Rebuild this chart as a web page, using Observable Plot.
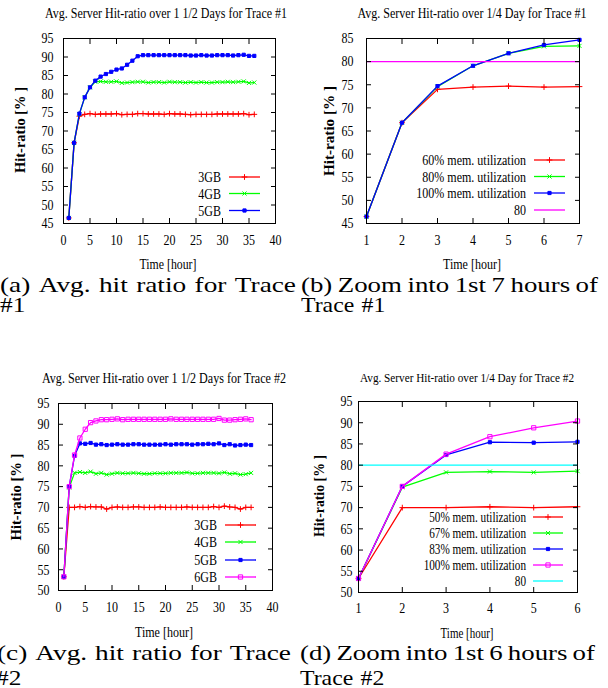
<!DOCTYPE html>
<html><head><meta charset="utf-8">
<script src="https://cdn.jsdelivr.net/npm/d3@7"></script>
<script src="https://cdn.jsdelivr.net/npm/@observablehq/plot@0.6"></script>
<style>
html,body{margin:0;padding:0;background:#fff;}
#root{position:relative;width:608px;height:688px;overflow:hidden;}
#overlay{position:absolute;left:0;top:0;pointer-events:none;}
</style></head><body><div id="root"></div>
<script>
// ---------- data ----------
const hours = [1,2,3,4,5,6,7,8,9,10,11,12,13,14,15,16,17,18,19,20,21,22,23,24,25,26,27,28,29,30,31,32,33,34,35,36];

const trace1_3GB = [46.5,66.8,74.0,74.5,74.7,74.5,74.6,74.6,74.6,74.7,
  74.4,74.5,74.5,74.7,74.7,74.6,74.6,74.6,74.5,74.7,
  74.6,74.6,74.5,74.4,74.5,74.5,74.5,74.5,74.6,74.6,
  74.6,74.6,74.6,74.7,74.4,74.5];
const trace1_4GB = [46.5,66.8,74.6,79.1,81.8,83.3,83.4,83.3,83.3,83.4,
  83.0,83.1,83.2,83.3,83.3,83.1,83.2,83.2,83.1,83.3,
  83.2,83.2,83.1,83.2,83.1,83.2,83.1,83.1,83.2,83.2,
  83.3,83.2,83.3,83.4,83.0,83.1];
const trace1_5GB = [46.5,66.8,74.7,79.1,81.8,83.6,84.7,85.4,86.0,86.6,
  86.9,87.9,89.0,90.2,90.5,90.5,90.5,90.5,90.5,90.5,
  90.5,90.5,90.5,90.4,90.4,90.5,90.4,90.4,90.5,90.5,
  90.5,90.4,90.5,90.6,90.3,90.3];

const trace2_3GB = [53.3,70.0,70.0,70.2,70.0,70.2,70.1,70.1,69.6,70.0,
  70.1,70.0,70.0,70.1,70.1,70.0,70.0,70.0,70.1,70.0,
  70.0,70.0,70.0,70.1,70.0,70.0,70.0,70.0,70.2,70.0,
  70.3,70.1,70.0,69.6,70.0,70.0];
const trace2_4GB = [53.3,74.8,78.3,78.5,78.3,78.6,78.1,78.3,77.9,78.1,
  78.3,78.2,78.2,78.3,78.2,78.1,78.1,78.2,78.2,78.2,
  78.3,78.3,78.3,78.4,78.2,78.2,78.3,78.3,78.3,78.2,
  78.4,78.1,78.2,77.9,78.0,78.3];
const trace2_5GB = [53.3,75.0,82.4,85.4,85.3,85.5,85.1,85.2,85.0,85.1,
  85.2,85.1,85.1,85.2,85.2,85.1,85.1,85.1,85.1,85.2,
  85.1,85.2,85.2,85.2,85.1,85.2,85.2,85.3,85.2,85.4,
  85.0,85.2,84.9,85.0,85.1,85.0];
const trace2_6GB = [53.3,75.0,82.6,86.7,88.8,90.4,90.8,91.1,91.1,91.2,
  91.3,91.1,91.2,91.2,91.2,91.2,91.2,91.2,91.2,91.2,
  91.3,91.2,91.2,91.2,91.2,91.2,91.2,91.2,91.2,91.4,
  91.0,91.0,91.1,91.2,91.3,91.1];

const targetRatio = 80;

const legendA = ["3GB","4GB","5GB"];
const legendB = ["60% mem. utilization","80% mem. utilization","100% mem. utilization","80"];
const legendC = ["3GB","4GB","5GB","6GB"];
const legendD = ["50% mem. utilization","67% mem. utilization","83% mem. utilization","100% mem. utilization","80"];

const xTicksLong = [0,5,10,15,20,25,30,35,40];
const xTicksB = [1,2,3,4,5,6,7];
const xTicksD = [1,2,3,4,5,6];
const yTicksA = [45,50,55,60,65,70,75,80,85,90,95];
const yTicksB = [45,50,55,60,65,70,75,80,85];
const yTicksCD = [50,55,60,65,70,75,80,85,90,95];

const titles = [
  "Avg. Server Hit-ratio over 1 1/2 Days for Trace #1",
  "Avg. Server Hit-ratio over 1/4 Day for Trace #1",
  "Avg. Server Hit-ratio over 1 1/2 Days for Trace #2",
  "Avg. Server Hit-ratio over 1/4 Day for Trace #2"
];
const yLabel = "Hit-ratio [% ]";
const xLabel = "Time [hour]";
const captions = [
  ["(a) Avg. hit ratio for Trace", "#1"],
  ["(b) Zoom into 1st 7 hours of", "Trace #1"],
  ["(c) Avg. hit ratio for Trace", "#2"],
  ["(d) Zoom into 1st 6 hours of", "Trace #2"]
];

// ---------- styles ----------
const RED = "#ff0000", GREEN = "#00ff00", BLUE = "#0000ff", MAGENTA = "#ff00ff", CYAN = "#00ffff";
const sty = {
  s1: {color: RED, symbol: "plus", r: 2.0, fill: "none"},
  s2: {color: GREEN, symbol: "times", r: 2.0, fill: "none"},
  s3: {color: BLUE, symbol: "square", r: 1.8, fill: BLUE},
  s4: {color: MAGENTA, symbol: "square2", r: 2.7, fill: "none"}
};
const FONT = "'Liberation Serif', 'Times New Roman', serif";
const SQUEEZE = 0.8;

const root = document.getElementById("root");

function makePanel(p) {
  const marks = [];
  for (const s of p.series) {
    const rows = hours.map((t, i) => ({t, v: s.values[i]})).filter(d => d.t >= p.xDomain[0] && d.t <= p.xDomain[1]);
    marks.push(Plot.line(rows, {x: "t", y: "v", stroke: s.color, strokeWidth: 1.3}));
    marks.push(Plot.dot(rows, {x: "t", y: "v", symbol: s.symbol, r: s.r, stroke: s.color, fill: s.fill, strokeWidth: 1}));
  }
  if (p.ref) marks.push(Plot.ruleY([p.ref.value], {stroke: p.ref.color, strokeWidth: 1.3}));
  marks.push(Plot.frame({stroke: "black", strokeWidth: 1}));
  marks.push(Plot.axisX({ticks: p.xTicks, anchor: "bottom", tickSize: 5, dy: -5, fill: "none", label: null}));
  marks.push(Plot.axisX({ticks: p.xTicks, anchor: "top", tickSize: 5, dy: 5, fill: "none", label: null}));
  marks.push(Plot.axisY({ticks: p.yTicks, anchor: "left", tickSize: 5, dx: 5, fill: "none", label: null}));
  marks.push(Plot.axisY({ticks: p.yTicks, anchor: "right", tickSize: 5, dx: -5, fill: "none", label: null}));
  marks.push(Plot.axisX({ticks: p.xTicks, anchor: "bottom", tickSize: 0, tickPadding: p.xPad, tickFormat: d => String(d), label: null}));
  marks.push(Plot.axisY({ticks: p.yTicks, anchor: "left", tickSize: 0, tickPadding: p.yPad, tickFormat: d => String(d), label: null}));
  const svg = Plot.plot({
    width: p.width, height: p.height,
    marginLeft: p.m[0], marginRight: p.m[1], marginTop: p.m[2], marginBottom: p.m[3],
    x: {domain: p.xDomain, label: null},
    y: {domain: p.yDomain, label: null},
    style: {fontFamily: FONT, fontSize: "15px", color: "black", background: "transparent", overflow: "visible"},
    marks
  });
  svg.style.position = "absolute";
  svg.style.left = p.left + "px";
  svg.style.top = p.top + "px";
  root.appendChild(svg);
  svg.querySelectorAll("text").forEach(t => {
    const L = t.getComputedTextLength();
    if (L > 0) { t.setAttribute("textLength", L * SQUEEZE); t.setAttribute("lengthAdjust", "spacingAndGlyphs"); }
  });
}

makePanel({left: 0, top: 0, width: 300, height: 260, m: [63, 25, 38, 37],
  xDomain: [0, 40], yDomain: [45, 95], xTicks: xTicksLong, yTicks: yTicksA, xPad: 11, yPad: 10,
  series: [{values: trace1_3GB, ...sty.s1}, {values: trace1_4GB, ...sty.s2}, {values: trace1_5GB, ...sty.s3}]});
makePanel({left: 300, top: 0, width: 308, height: 260, m: [66, 29, 38, 37],
  xDomain: [1, 7], yDomain: [45, 85], xTicks: xTicksB, yTicks: yTicksB, xPad: 11, yPad: 13,
  series: [{values: trace1_3GB, ...sty.s1}, {values: trace1_4GB, ...sty.s2}, {values: trace1_5GB, ...sty.s3}],
  ref: {value: targetRatio, color: MAGENTA}});
makePanel({left: 0, top: 340, width: 300, height: 290, m: [58, 28, 63, 40],
  xDomain: [0, 40], yDomain: [50, 95], xTicks: xTicksLong, yTicks: yTicksCD, xPad: 11, yPad: 9,
  series: [{values: trace2_3GB, ...sty.s1}, {values: trace2_4GB, ...sty.s2}, {values: trace2_5GB, ...sty.s3}, {values: trace2_6GB, ...sty.s4}]});
makePanel({left: 300, top: 340, width: 308, height: 290, m: [58, 31, 61, 38],
  xDomain: [1, 6], yDomain: [50, 95], xTicks: xTicksD, yTicks: yTicksCD, xPad: 10, yPad: 6,
  series: [{values: trace2_3GB, ...sty.s1}, {values: trace2_4GB, ...sty.s2}, {values: trace2_5GB, ...sty.s3}, {values: trace2_6GB, ...sty.s4}],
  ref: {value: targetRatio, color: CYAN}});

// ---------- overlay text: titles, labels, legends, captions ----------
const NS = "http://www.w3.org/2000/svg";
const ov = document.createElementNS(NS, "svg");
ov.setAttribute("id", "overlay");
ov.setAttribute("width", 608); ov.setAttribute("height", 688);
root.appendChild(ov);

function addText(str, x, y, o = {}) {
  const t = document.createElementNS(NS, "text");
  t.textContent = str;
  t.setAttribute("x", x); t.setAttribute("y", y);
  t.style.fontFamily = FONT;
  t.style.fontSize = (o.size || 15) + "px";
  if (o.weight) t.style.fontWeight = o.weight;
  t.setAttribute("text-anchor", o.anchor || "start");
  t.setAttribute("fill", "black");
  t.style.whiteSpace = "pre";
  if (o.rotate) t.setAttribute("transform", `rotate(${o.rotate} ${x} ${y})`);
  ov.appendChild(t);
  const L = t.getComputedTextLength();
  const target = o.width != null ? o.width : (o.factor ? L * o.factor : null);
  if (target) { t.setAttribute("textLength", target); t.setAttribute("lengthAdjust", "spacingAndGlyphs"); }
  return t;
}

// titles
addText(titles[0], 166, 18, {size: 14, anchor: "middle", width: 242});
addText(titles[1], 472, 18, {size: 14, anchor: "middle", width: 229});
addText(titles[2], 164, 383, {size: 14, anchor: "middle", width: 244});
addText(titles[3], 467, 382, {size: 13, anchor: "middle", width: 214});

// y labels
addText(yLabel, 25, 130, {size: 14, weight: "bold", anchor: "middle", rotate: -90, width: 86});
addText(yLabel, 334, 131, {size: 14, weight: "bold", anchor: "middle", rotate: -90, width: 90});
addText(yLabel, 21, 497, {size: 14, weight: "bold", anchor: "middle", rotate: -90, width: 87});
addText(yLabel, 324, 496, {size: 14, weight: "bold", anchor: "middle", rotate: -90, width: 82});

// x labels
addText(xLabel, 168, 269, {size: 15, anchor: "middle", width: 57});
addText(xLabel, 472, 269, {size: 15, anchor: "middle", width: 58});
addText(xLabel, 164, 637, {size: 15, anchor: "middle", width: 58});
addText(xLabel, 467, 638, {size: 14, anchor: "middle", width: 53});

// legends
const symMap = {plus: d3.symbolPlus, times: d3.symbolTimes, square: d3.symbolSquare, square2: d3.symbolSquare2};
function legend(labels, styles, rows, textRight, x1, x2, size) {
  labels.forEach((lab, i) => {
    const y = rows[i], s = styles[i];
    addText(lab, textRight, y + 5, {size, anchor: "end", factor: SQUEEZE});
    const ln = document.createElementNS(NS, "line");
    ln.setAttribute("x1", x1); ln.setAttribute("x2", x2);
    ln.setAttribute("y1", y); ln.setAttribute("y2", y);
    ln.setAttribute("stroke", s.color); ln.setAttribute("stroke-width", 1.3);
    ov.appendChild(ln);
    if (s.symbol) {
      const pth = document.createElementNS(NS, "path");
      pth.setAttribute("d", d3.symbol(symMap[s.symbol], Math.PI * s.r * s.r)());
      pth.setAttribute("transform", `translate(${(x1 + x2) / 2},${y})`);
      pth.setAttribute("stroke", s.color); pth.setAttribute("fill", s.fill);
      ov.appendChild(pth);
    }
  });
}
legend(legendA, [sty.s1, sty.s2, sty.s3], [177, 193.5, 210.5], 221, 229, 260, 15);
legend(legendB, [sty.s1, sty.s2, sty.s3, {color: MAGENTA}], [160, 176.5, 193, 210], 526, 534, 565, 15);
legend(legendC, [sty.s1, sty.s2, sty.s3, sty.s4], [525, 542, 560, 577], 217, 225, 256, 15);
legend(legendD, [sty.s1, sty.s2, sty.s3, sty.s4, {color: CYAN}], [517, 533, 549, 565, 581], 526, 533, 563, 14);

// captions (justified first line)
const CAP = 22;
function capLine(str, x0, x1, y, justify, stretch) {
  const words = str.split(" ");
  const els = words.map(w => addText(w, 0, y, {size: CAP, factor: stretch}));
  const widths = els.map(e => Number(e.getAttribute("textLength")));
  const total = widths.reduce((a, b) => a + b, 0);
  const gap = justify && words.length > 1 ? (x1 - x0 - total) / (words.length - 1) : CAP * 0.33;
  let x = x0;
  els.forEach((e, i) => { e.setAttribute("x", x); x += widths[i] + gap; });
}
capLine(captions[0][0], 0, 296, 292, true, 1.24);
capLine(captions[0][1], 0, 0, 312, false, 1.15);
capLine(captions[1][0], 301, 598, 292, true, 1.22);
capLine(captions[1][1], 301, 0, 312, false, 1.08);
capLine(captions[2][0], -3, 291, 660, true, 1.24);
capLine(captions[2][1], -4, 0, 685, false, 1.15);
capLine(captions[3][0], 300, 595, 660, true, 1.22);
capLine(captions[3][1], 300, 0, 685, false, 1.08);
</script></body></html>
